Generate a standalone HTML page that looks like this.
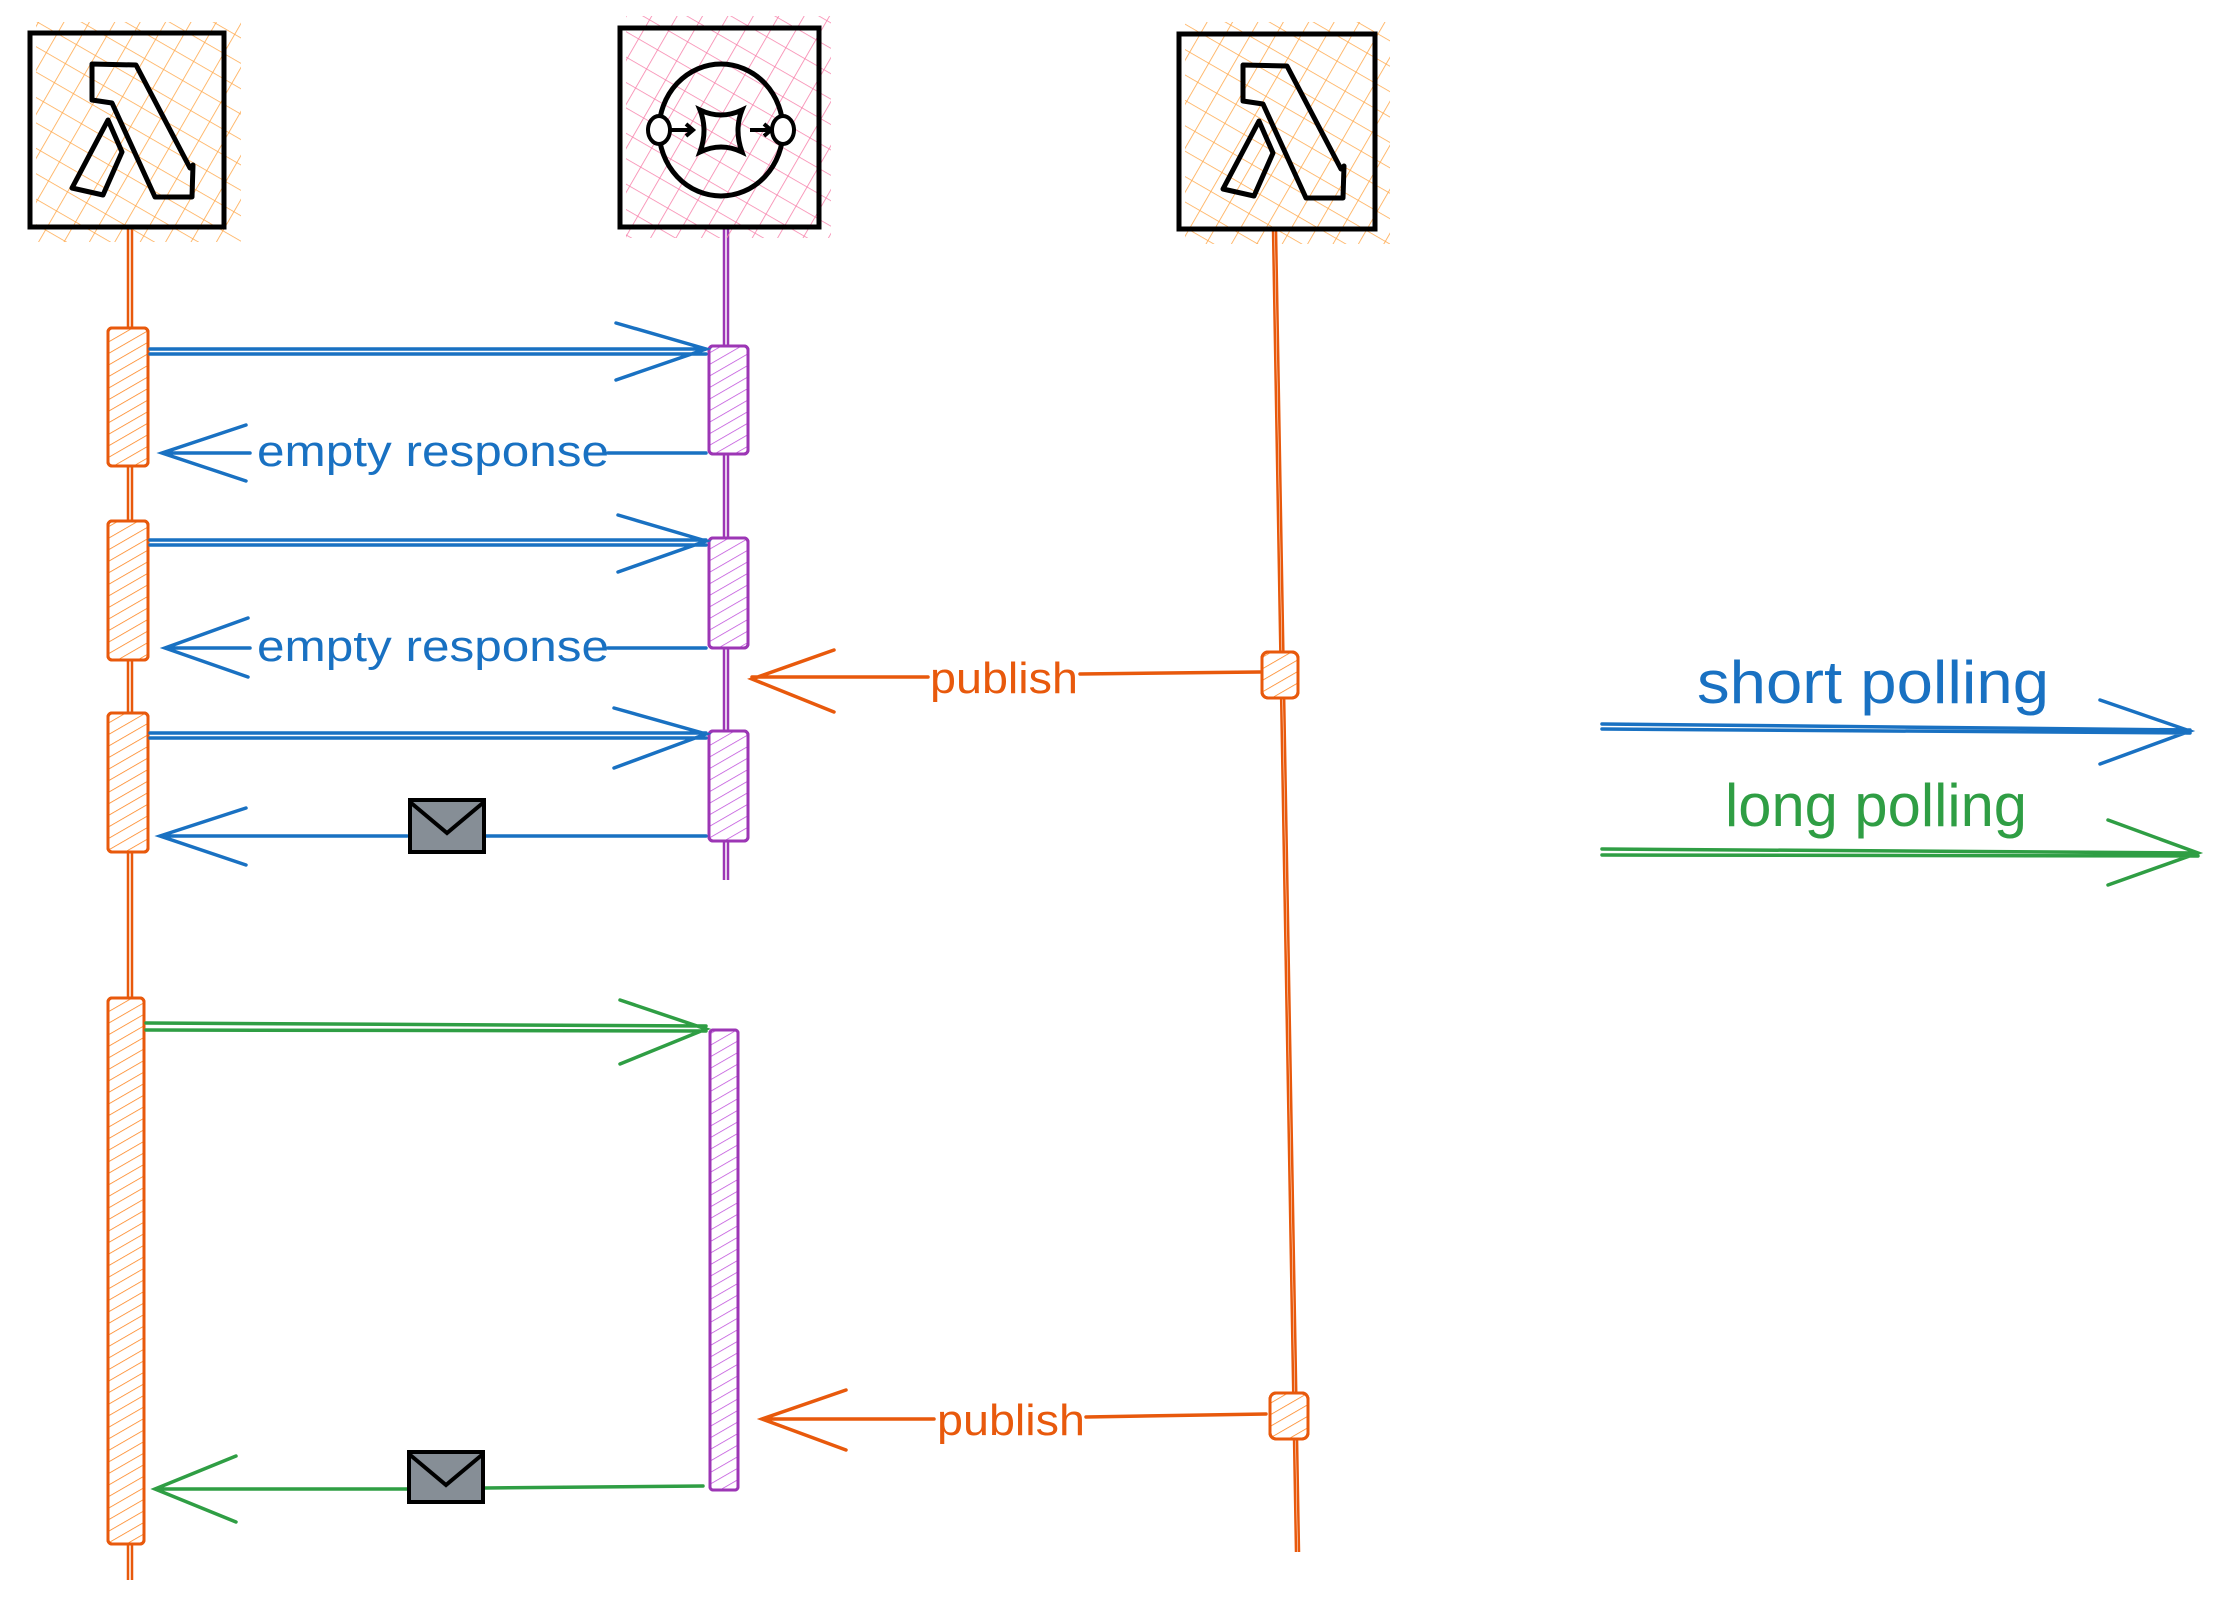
<!DOCTYPE html>
<html><head><meta charset="utf-8"><style>html,body{margin:0;padding:0;background:#fff}svg{display:block}</style></head>
<body>
<svg width="2216" height="1606" viewBox="0 0 2216 1606" xmlns="http://www.w3.org/2000/svg" font-family="Liberation Sans, sans-serif">
<defs>
<pattern id="xo" width="22" height="22" patternUnits="userSpaceOnUse" patternTransform="rotate(30)">
<path d="M0 0H22M0 0V22" stroke="#ffa94d" stroke-width="1.6" fill="none"/></pattern>
<pattern id="xp" width="22" height="22" patternUnits="userSpaceOnUse" patternTransform="rotate(30)">
<path d="M0 0H22M0 0V22" stroke="#f783ac" stroke-width="1.6" fill="none"/></pattern>
<pattern id="ho" width="10" height="10" patternUnits="userSpaceOnUse" patternTransform="rotate(-30)">
<path d="M0 0H10" stroke="#fd7e14" stroke-width="1.5"/></pattern>
<pattern id="hp" width="10" height="10" patternUnits="userSpaceOnUse" patternTransform="rotate(-30)">
<path d="M0 0H10" stroke="#be4bdb" stroke-width="1.5"/></pattern>
</defs>

<!-- lifelines -->
<g fill="none" stroke-width="2.5">
<path d="M128 229V1580M132 229V1580" stroke="#e8590c"/>
<path d="M724 229V880M728 229V880" stroke="#9c36b5"/>
<path d="M1273 229L1296 1552M1276 229L1299 1552" stroke="#e8590c"/>
</g>

<!-- participant boxes -->
<rect x="36" y="22" width="205" height="220" fill="url(#xo)"/>
<rect x="30" y="33" width="194" height="194" fill="none" stroke="#000" stroke-width="5"/>
<path d="M92 64L136 65L190 168L193 165L192 197L155 197L112 103L92 100Z M108 120L72 188L103 195L122 152Z" fill="none" stroke="#000" stroke-width="5" stroke-linejoin="round"/>

<rect x="626" y="16" width="205" height="222" fill="url(#xp)"/>
<rect x="620" y="28" width="199" height="199" fill="none" stroke="#000" stroke-width="5"/>
<ellipse cx="721" cy="130" rx="62" ry="66" fill="none" stroke="#000" stroke-width="5"/>
<ellipse cx="659" cy="130" rx="11" ry="14" fill="#fff" stroke="#000" stroke-width="4"/>
<ellipse cx="783" cy="130" rx="11" ry="14" fill="#fff" stroke="#000" stroke-width="4"/>
<path d="M700 110Q721 120 742 110Q734 130 742 152Q721 142 700 152Q708 130 700 110Z" fill="none" stroke="#000" stroke-width="5"/>
<path d="M671 130H692M686 124L693 130L686 136M750 130H770M764 124L771 130L764 136" fill="none" stroke="#000" stroke-width="4"/>

<rect x="1185" y="22" width="205" height="222" fill="url(#xo)"/>
<rect x="1179" y="34" width="196" height="195" fill="none" stroke="#000" stroke-width="5"/>
<path d="M1243 65L1287 66L1341 169L1344 166L1343 198L1306 198L1263 104L1243 101Z M1259 121L1223 189L1254 196L1273 153Z" fill="none" stroke="#000" stroke-width="5" stroke-linejoin="round"/>

<!-- activations -->
<g stroke="#e8590c" stroke-width="3" fill="url(#ho)">
<rect x="108" y="328" width="40" height="138" rx="4" fill="#fff"/><rect x="108" y="328" width="40" height="138" rx="4"/>
<rect x="108" y="521" width="40" height="139" rx="4" fill="#fff"/><rect x="108" y="521" width="40" height="139" rx="4"/>
<rect x="108" y="713" width="40" height="139" rx="4" fill="#fff"/><rect x="108" y="713" width="40" height="139" rx="4"/>
<rect x="108" y="998" width="36" height="546" rx="4" fill="#fff"/><rect x="108" y="998" width="36" height="546" rx="4"/>
<rect x="1262" y="652" width="36" height="46" rx="6" fill="#fff"/><rect x="1262" y="652" width="36" height="46" rx="6"/>
<rect x="1270" y="1393" width="38" height="46" rx="6" fill="#fff"/><rect x="1270" y="1393" width="38" height="46" rx="6"/>
</g>
<g stroke="#9c36b5" stroke-width="3" fill="url(#hp)">
<rect x="709" y="346" width="39" height="108" rx="4" fill="#fff"/><rect x="709" y="346" width="39" height="108" rx="4"/>
<rect x="709" y="538" width="39" height="110" rx="4" fill="#fff"/><rect x="709" y="538" width="39" height="110" rx="4"/>
<rect x="709" y="731" width="39" height="110" rx="4" fill="#fff"/><rect x="709" y="731" width="39" height="110" rx="4"/>
<rect x="710" y="1030" width="28" height="460" rx="3" fill="#fff"/><rect x="710" y="1030" width="28" height="460" rx="3"/>
</g>

<!-- blue arrows -->
<g stroke="#1971c2" stroke-width="3.5" fill="none" stroke-linecap="round">
<path d="M150 349H706M150 354H706M616 323L706 349L616 380"/>
<path d="M706 453H608M250 453H162M246 425L162 453L246 481"/>
<path d="M150 540H706M150 545H706M618 515L706 541L618 572"/>
<path d="M706 648H608M250 648H165M248 618L165 648L248 677"/>
<path d="M150 733H706M150 738H706M614 708L706 734L614 768"/>
<path d="M706 836H485M407 836H160M246 808L160 836L246 865"/>
</g>
<g fill="#1971c2" font-size="44">
<text x="257" y="466" textLength="352" lengthAdjust="spacingAndGlyphs">empty response</text>
<text x="257" y="661" textLength="352" lengthAdjust="spacingAndGlyphs">empty response</text>
</g>

<!-- green arrows -->
<g stroke="#2f9e44" stroke-width="3.5" fill="none" stroke-linecap="round">
<path d="M146 1023L706 1026M146 1030L706 1031M620 1000L706 1029L620 1064"/>
<path d="M703 1486L485 1488M407 1489H155M236 1456L155 1489L236 1522"/>
</g>

<!-- envelopes -->
<g stroke="#000" stroke-width="4" fill="#868e96">
<rect x="410" y="800" width="74" height="52"/>
<path d="M410 802L447 833L484 802" fill="none"/>
<rect x="409" y="1452" width="74" height="50"/>
<path d="M409 1454L446 1485L483 1454" fill="none"/>
</g>

<!-- publish arrows -->
<g stroke="#e8590c" stroke-width="3.5" fill="none" stroke-linecap="round">
<path d="M1260 672L1080 674M928 677H752M834 650L752 679L834 712"/>
<path d="M1266 1414L1086 1417M934 1419H762M846 1390L762 1419L846 1450"/>
</g>
<g fill="#e8590c" font-size="44">
<text x="930" y="693" textLength="148" lengthAdjust="spacingAndGlyphs">publish</text>
<text x="937" y="1435" textLength="148" lengthAdjust="spacingAndGlyphs">publish</text>
</g>

<!-- legend -->
<g stroke-width="3.5" fill="none" stroke-linecap="round">
<path d="M1602 724L2190 730M1602 729L2190 733M2100 700L2190 731L2100 764" stroke="#1971c2"/>
<path d="M1602 849L2198 853M1602 855L2198 856M2108 820L2198 853L2108 885" stroke="#2f9e44"/>
</g>
<text x="1697" y="703" font-size="60" fill="#1971c2" textLength="352" lengthAdjust="spacingAndGlyphs">short polling</text>
<text x="1725" y="826" font-size="60" fill="#2f9e44" textLength="302" lengthAdjust="spacingAndGlyphs">long polling</text>
</svg>
</body></html>
